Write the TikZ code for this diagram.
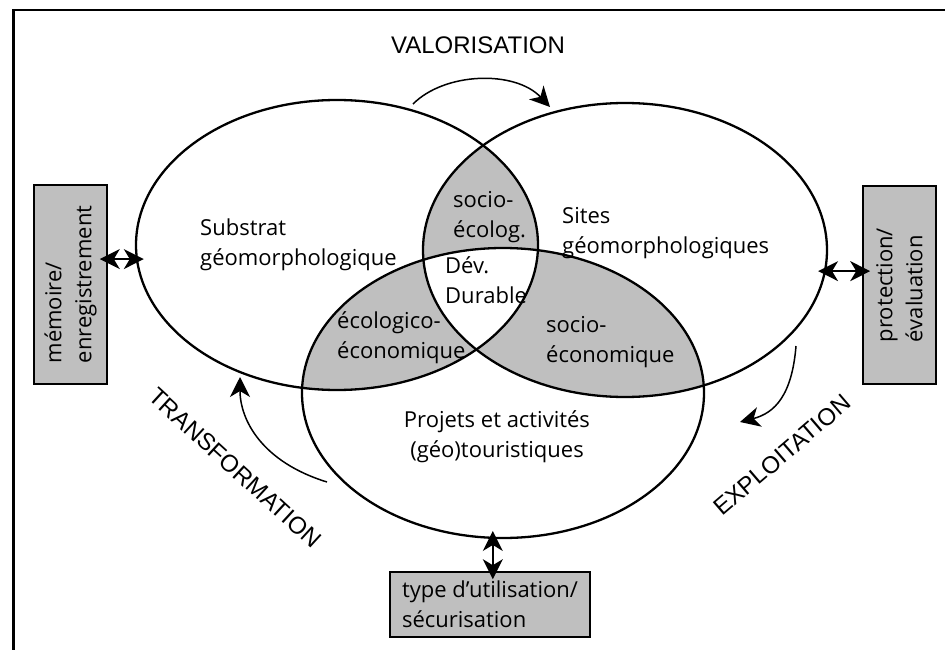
\documentclass[tikz,border=0pt]{standalone}
\usepackage{fontspec}
\setmainfont{Open Sans}
\newfontfamily\capsfont{Liberation Sans}
\usetikzlibrary{arrows.meta,shapes.geometric}

\begin{document}
\begin{tikzpicture}[x=1pt, y=-1pt, >={Stealth[length=20pt,width=20pt,inset=6pt]},
    venn/.style={ellipse, draw, line width=2.3pt, minimum width=402pt, minimum height=290pt, inner sep=0pt},
    lbl/.style={font=\fontsize{22}{30}\selectfont, align=left, anchor=base west, inner sep=0pt},
    boxlbl/.style={draw, line width=1.6pt, fill=black!25, font=\fontsize{22}{30}\selectfont, align=left},
    cyc/.style={font=\capsfont\fontsize{24}{28}\selectfont},
    dbl/.style={<->, line width=1.6pt, shorten <=-8pt, shorten >=-8pt},
    turn/.style={->, line width=1.5pt}]
    \useasboundingbox (0,0) rectangle (945,650);
    % frame
    \draw[line width=2.5pt] (945,10) -- (13.5,10) -- (13.5,650);
    % shaded overlaps
    \begin{scope}
        \clip (337,245) ellipse [x radius=201, y radius=145];
        \fill[black!25] (625,250) ellipse [x radius=202, y radius=147];
        \fill[black!25] (503,393) ellipse [x radius=201, y radius=145];
    \end{scope}
    \begin{scope}
        \clip (625,250) ellipse [x radius=202, y radius=147];
        \fill[black!25] (503,393) ellipse [x radius=201, y radius=145];
        \clip (337,245) ellipse [x radius=201, y radius=145];
        \fill[white] (503,393) ellipse [x radius=201, y radius=145];
    \end{scope}
    % the three sets
    \node[venn] (substrat) at (337,245) {};
    \node[venn, minimum width=404pt, minimum height=294pt] (sites) at (625,250) {};
    \node[venn] (projets) at (503,393) {};
    \node[lbl] (tsubstrat) at (200,265) {Substrat\\géomorphologique};
    \node[lbl] (tsites) at (562,253) {Sites\\géomorphologiques};
    \node[lbl, anchor=base, align=center] (tprojets) at (497,457) {Projets et activités\\(géo)touristiques};
    \node[lbl] (tsocecol) at (453,237) {socio-\\écolog.};
    \node[lbl] (tdurable) at (445,303) {Dév.\\Durable};
    \node[lbl] (tecoeco) at (337,358) {écologico-\\économique};
    \node[lbl] (tsoceco) at (546,362) {socio-\\économique};
    % side boxes
    \node[boxlbl, rotate=90, minimum width=199pt, minimum height=73pt] (memoire) at (70.5,284.5) {mémoire/\\enregistrement};
    \node[boxlbl, rotate=90, minimum width=198pt, minimum height=73pt] (protect) at (899.5,285) {protection/\\évaluation};
    \node[boxlbl, minimum width=200pt, minimum height=65pt] (usage) at (490,604.5) {type d’utilisation/\\sécurisation};
    \draw[dbl] (memoire.south |- substrat.184) -- (substrat.184);
    \draw[dbl] (sites.354) -- (protect.north |- sites.354);
    \draw[dbl] (projets.266) -- (projets.266 |- usage.north);
    % cycle
    \coordinate (v1) at (413,104);
    \coordinate (v2) at (550,107);
    \coordinate (e1) at (796,346);
    \coordinate (e2) at (740,422);
    \coordinate (t1) at (327,482);
    \coordinate (t2) at (240,377);
    \draw[turn] (v1) .. controls (445,72) and (515,70) .. (v2);
    \draw[turn] (e1) .. controls (792,395) and (775,413) .. (e2);
    \draw[turn] (t1) .. controls (262,462) and (240,420) .. (t2);
    \node[cyc] (valor) at (478,45) {VALORISATION};
    \node[cyc, rotate=-42.5] (transf) at (235,468) {TRANSFORMATION};
    \node[cyc, rotate=40.6] (exploit) at (782,455) {EXPLOITATION};
\end{tikzpicture}
\end{document}
